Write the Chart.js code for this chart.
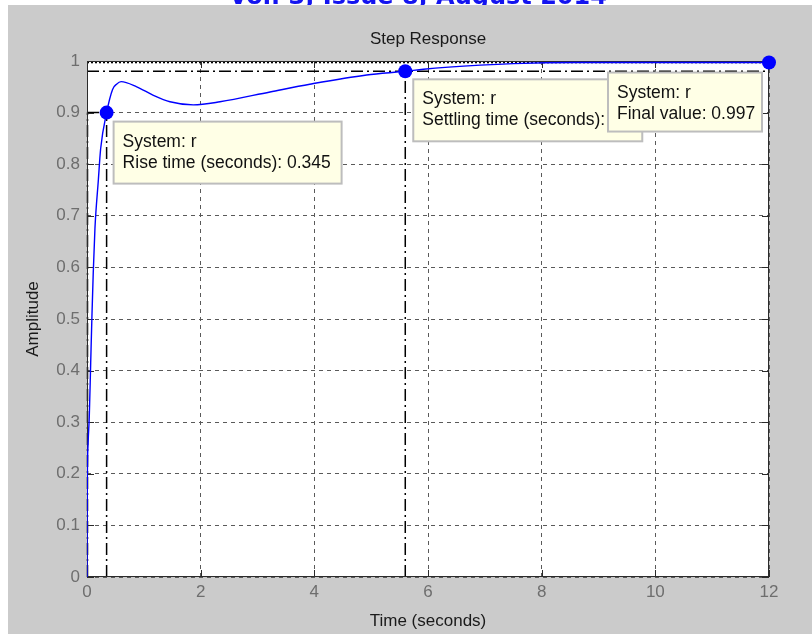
<!DOCTYPE html>
<html>
<head>
<meta charset="utf-8">
<title>Step Response</title>
<script src="https://cdn.jsdelivr.net/npm/chart.js@4.4.1/dist/chart.umd.min.js"></script>
<style>
  html, body { margin: 0; padding: 0; background: #fff; }
  canvas { display: block; }
</style>
</head>
<body>
<canvas id="stepChart" width="812" height="634"></canvas>
<script>
// step response of system r
const timeSec = [0, 0.002, 0.005, 0.02, 0.04, 0.065, 0.088, 0.11, 0.14, 0.2, 0.24, 0.345, 0.45, 0.52, 0.6,
  0.875, 1.16, 1.46, 1.87, 2.34, 3.22, 3.92, 4.92, 5.6, 5.92, 6.92, 7.5, 8.6, 10, 12];
const amplitude = [0, 0.1, 0.18, 0.26, 0.31, 0.415, 0.51, 0.59, 0.676, 0.77, 0.83, 0.9, 0.945, 0.955, 0.96,
  0.95, 0.934, 0.921, 0.915, 0.921, 0.94, 0.955, 0.973, 0.98, 0.984, 0.992, 0.995, 0.997, 0.997, 0.997];

// characteristics
const riseTime = 0.345, riseLevel = 0.9;
const settleTime = 5.6, settleLevel = 0.98;
const finalTime = 12, finalValue = 0.997;

const xTicks = [0, 2, 4, 6, 8, 10, 12];
const yTicks = [0, 0.1, 0.2, 0.3, 0.4, 0.5, 0.6, 0.7, 0.8, 0.9, 1];

const FONT = '"Liberation Sans", Arial, sans-serif';

function dashLine(ctx, x1, y1, x2, y2, dash) {
  ctx.save();
  ctx.beginPath();
  ctx.setLineDash(dash);
  ctx.moveTo(x1, y1);
  ctx.lineTo(x2, y2);
  ctx.stroke();
  ctx.restore();
}

function drawTip(ctx, left, top, w, h, lines) {
  ctx.save();
  ctx.fillStyle = '#ffffe6';
  ctx.fillRect(left, top, w, h);
  ctx.strokeStyle = '#bdbdbd';
  ctx.lineWidth = 2;
  ctx.strokeRect(left, top, w, h);
  ctx.fillStyle = '#111';
  ctx.font = '17.5px ' + FONT;
  ctx.textAlign = 'left';
  ctx.textBaseline = 'alphabetic';
  lines.forEach(function (t, i) {
    ctx.fillText(t, left + 9, top + 25 + i * 21);
  });
  ctx.restore();
}

const figurePlugin = {
  id: 'figure',
  beforeDraw(chart) {
    const ctx = chart.ctx;
    const a = chart.chartArea;
    ctx.save();
    ctx.fillStyle = '#fff';
    ctx.fillRect(0, 0, chart.width, chart.height);
    // journal header peeking above the figure
    ctx.fillStyle = '#1414f0';
    ctx.font = 'bold 24px "DejaVu Sans", sans-serif';
    ctx.textAlign = 'center';
    ctx.fillText('Vol. 3, Issue 8, August 2014', 418, 4);
    // figure background
    ctx.fillStyle = '#cbcbcb';
    ctx.fillRect(8, 5, chart.width - 8, chart.height - 5);
    ctx.fillStyle = '#fff';
    ctx.fillRect(a.left, a.top, a.right - a.left, a.bottom - a.top);
    // titles
    ctx.fillStyle = '#1a1a1a';
    ctx.font = '17px ' + FONT;
    ctx.textAlign = 'center';
    ctx.textBaseline = 'middle';
    ctx.fillText('Step Response', (a.left + a.right) / 2, 39);
    ctx.fillText('Time (seconds)', (a.left + a.right) / 2, 621);
    ctx.translate(33, (a.top + a.bottom) / 2);
    ctx.rotate(-Math.PI / 2);
    ctx.fillText('Amplitude', 0, 0);
    ctx.restore();
  },
  beforeDatasetsDraw(chart) {
    const ctx = chart.ctx;
    const a = chart.chartArea;
    const x = chart.scales.x, y = chart.scales.y;
    const dd = [12, 4, 2, 4];
    ctx.save();
    ctx.strokeStyle = '#000';
    ctx.lineWidth = 1.5;
    // rise time guides
    const rx = x.getPixelForValue(riseTime), ry = y.getPixelForValue(riseLevel);
    dashLine(ctx, rx, a.bottom, rx, ry, dd);
    dashLine(ctx, a.left, ry, rx, ry, dd);
    dashLine(ctx, a.left + 0.5, a.bottom, a.left + 0.5, ry, dd);
    // settling guides
    const sx = x.getPixelForValue(settleTime), sy = y.getPixelForValue(settleLevel);
    dashLine(ctx, sx, a.bottom, sx, sy, dd);
    dashLine(ctx, a.left, sy, a.right, sy, dd);
    // final value
    const fy = y.getPixelForValue(finalValue);
    dashLine(ctx, a.left, fy, a.right, fy, [2, 2]);
    // axes box and inward ticks
    ctx.strokeStyle = '#2b2b2b';
    ctx.lineWidth = 1;
    ctx.strokeRect(a.left + 0.5, a.top + 0.5, a.right - a.left - 1, a.bottom - a.top - 1);
    ctx.beginPath();
    xTicks.forEach(function (v) {
      const px = Math.round(x.getPixelForValue(v)) + 0.5;
      ctx.moveTo(px, a.bottom); ctx.lineTo(px, a.bottom - 7);
      ctx.moveTo(px, a.top); ctx.lineTo(px, a.top + 7);
    });
    yTicks.forEach(function (v) {
      const py = Math.round(y.getPixelForValue(v)) + 0.5;
      ctx.moveTo(a.left, py); ctx.lineTo(a.left + 7, py);
      ctx.moveTo(a.right, py); ctx.lineTo(a.right - 7, py);
    });
    ctx.stroke();
    ctx.restore();
  },
  afterDatasetsDraw(chart) {
    const ctx = chart.ctx;
    const x = chart.scales.x, y = chart.scales.y;
    const rx = x.getPixelForValue(riseTime), ry = y.getPixelForValue(riseLevel);
    const sx = x.getPixelForValue(settleTime), sy = y.getPixelForValue(settleLevel);
    const fx = x.getPixelForValue(finalTime), fy = y.getPixelForValue(finalValue);
    drawTip(ctx, rx + 7, ry + 9, 228, 62, ['System: r', 'Rise time (seconds): ' + riseTime]);
    drawTip(ctx, sx + 8, sy + 8, 229, 62, ['System: r', 'Settling time (seconds): ' + settleTime]);
    drawTip(ctx, fx - 161, fy + 10, 154, 59, ['System: r', 'Final value: ' + finalValue]);
  }
};

const ctx = document.getElementById('stepChart');
new Chart(ctx, {
  type: 'scatter',
  data: {
    datasets: [{
      data: timeSec.map(function (t, i) { return { x: t, y: amplitude[i] }; }),
      showLine: true,
      borderColor: '#0000ff',
      borderWidth: 1.4,
      pointRadius: 0,
      cubicInterpolationMode: 'monotone'
    }, {
      data: [
        { x: riseTime, y: riseLevel },
        { x: settleTime, y: settleLevel },
        { x: finalTime, y: finalValue }
      ],
      pointRadius: 7,
      pointHoverRadius: 7,
      backgroundColor: '#0000ff',
      borderWidth: 0,
      clip: false
    }]
  },
  options: {
    responsive: false,
    animation: false,
    devicePixelRatio: 1,
    layout: { padding: { left: 0, top: 61, right: 43, bottom: 0 } },
    plugins: {
      legend: { display: false },
      tooltip: { enabled: false }
    },
    scales: {
      x: {
        type: 'linear',
        min: 0,
        max: 12,
        afterBuildTicks: function (s) { s.ticks = xTicks.map(function (v) { return { value: v }; }); },
        afterFit: function (s) { s.height = 57; },
        ticks: { color: '#6e6e6e', padding: 5, font: { size: 17, family: FONT } },
        grid: { color: '#5a5a5a', drawTicks: false },
        border: { display: false, dash: [4, 4] }
      },
      y: {
        min: 0,
        max: 1,
        afterBuildTicks: function (s) { s.ticks = yTicks.map(function (v) { return { value: v }; }); },
        afterFit: function (s) { s.width = 87; },
        ticks: {
          color: '#6e6e6e',
          padding: 7,
          font: { size: 17, family: FONT },
          callback: function (v) { return (v === 0 || v === 1) ? String(v) : v.toFixed(1); }
        },
        grid: { color: '#5a5a5a', drawTicks: false },
        border: { display: false, dash: [4, 4] }
      }
    }
  },
  plugins: [figurePlugin]
});
</script>
</body>
</html>
